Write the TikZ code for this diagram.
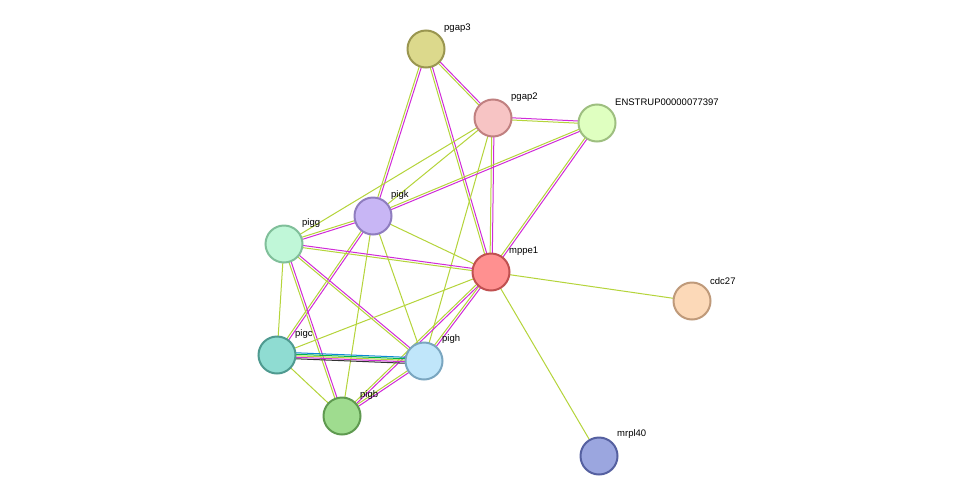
\documentclass[tikz,border=0pt]{standalone}
\usepackage{fontspec}
\setmainfont{Liberation Sans}
\usetikzlibrary{calc,backgrounds}
\definecolor{yg}{HTML}{B5D43A}
\definecolor{mg}{HTML}{D02BD8}
\newcommand{\ed}[4]{\draw[#4,line width=1pt] ($(#1)!#3!90:(#2)$) -- ($(#2)!#3!-90:(#1)$);}
\newcommand{\two}[2]{\ed{#1}{#2}{1.1pt}{mg}\ed{#1}{#2}{-1.1pt}{yg}}
\newcommand{\one}[2]{\ed{#1}{#2}{0pt}{yg}}
\tikzset{nd/.style={circle,minimum size=37pt,inner sep=0pt,line width=2pt},
lb/.style={font=\fontsize{9.5}{11}\selectfont,anchor=south west,inner sep=0pt}}
\begin{document}
\begin{tikzpicture}[x=1pt,y=-1pt]
\useasboundingbox (0,0) rectangle (976,501);
\node[nd,fill={rgb,255:red,220;green,217;blue,140},draw={rgb,255:red,154;green,150;blue,80}] (pgap3) at (426,49) {};
\node[nd,fill={rgb,255:red,247;green,196;blue,196},draw={rgb,255:red,192;green,128;blue,128}] (pgap2) at (493,118) {};
\node[nd,fill={rgb,255:red,223;green,255;blue,192},draw={rgb,255:red,158;green,191;blue,128}] (ens) at (597,123) {};
\node[nd,fill={rgb,255:red,200;green,182;blue,245},draw={rgb,255:red,143;green,125;blue,191}] (pigk) at (373,216) {};
\node[nd,fill={rgb,255:red,192;green,247;blue,216},draw={rgb,255:red,128;green,191;blue,154}] (pigg) at (284,244) {};
\node[nd,fill={rgb,255:red,255;green,144;blue,144},draw={rgb,255:red,192;green,80;blue,80}] (mppe1) at (491,272) {};
\node[nd,fill={rgb,255:red,252;green,217;blue,184},draw={rgb,255:red,191;green,154;blue,122}] (cdc27) at (692,301) {};
\node[nd,fill={rgb,255:red,143;green,220;blue,210},draw={rgb,255:red,79;green,154;blue,144}] (pigc) at (277,355) {};
\node[nd,fill={rgb,255:red,192;green,230;blue,250},draw={rgb,255:red,122;green,166;blue,192}] (pigh) at (424,361) {};
\node[nd,fill={rgb,255:red,159;green,220;blue,143},draw={rgb,255:red,95;green,154;blue,80}] (pigb) at (342,416) {};
\node[nd,fill={rgb,255:red,155;green,166;blue,223},draw={rgb,255:red,85;green,96;blue,160}] (mrpl40) at (599,456) {};
\node[lb] (l1) at (444,33) {pgap3};
\node[lb] (l2) at (511,102) {pgap2};
\node[lb] (l3) at (615,106) {ENSTRUP00000077397};
\node[lb] (l4) at (391,200) {pigk};
\node[lb] (l5) at (302,228) {pigg};
\node[lb] (l6) at (509,256) {mppe1};
\node[lb] (l7) at (710,285) {cdc27};
\node[lb] (l8) at (295,339) {pigc};
\node[lb] (l9) at (442,344) {pigh};
\node[lb] (l10) at (360,400) {pigb};
\node[lb] (l11) at (617,439) {mrpl40};
\begin{scope}[on background layer]
\fill[white] (0,0) rectangle (976,501);
\two{pgap3}{pgap2}\two{pgap3}{pigk}\two{pgap3}{mppe1}
\two{pgap2}{ens}\two{pgap2}{mppe1}\one{pgap2}{pigk}\one{pgap2}{pigg}\one{pgap2}{pigh}
\two{ens}{pigk}\two{ens}{mppe1}
\two{pigk}{pigg}\one{pigk}{mppe1}\two{pigk}{pigc}\one{pigk}{pigh}\one{pigk}{pigb}
\two{pigg}{mppe1}\one{pigg}{pigc}\two{pigg}{pigh}\two{pigg}{pigb}
\one{mppe1}{cdc27}\one{mppe1}{mrpl40}\one{mppe1}{pigc}\two{mppe1}{pigh}\two{mppe1}{pigb}
\ed{pigc}{pigh}{3pt}{cyan!70!blue}\ed{pigc}{pigh}{1.5pt}{teal!60!green}\ed{pigc}{pigh}{0pt}{yg}\ed{pigc}{pigh}{-1.5pt}{mg}\ed{pigc}{pigh}{-3pt}{black!80}
\one{pigc}{pigb}\two{pigh}{pigb}
\end{scope}
\end{tikzpicture}
\end{document}
